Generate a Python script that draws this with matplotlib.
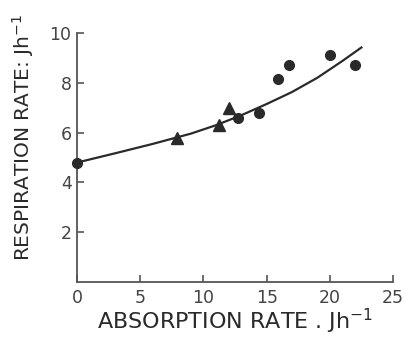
import matplotlib
matplotlib.use("Agg")
import matplotlib.pyplot as plt

plt.rcParams["font.family"] = ["DejaVu Sans"]

# data
circle_x = [0.0, 12.7, 14.4, 15.9, 16.8, 20.0, 22.0]
circle_y = [4.8, 6.57, 6.8, 8.15, 8.7, 9.1, 8.7]
tri_x = [7.9, 11.2, 12.0]
tri_y = [5.77, 6.3, 7.0]
fit_x = [0, 3, 6, 9, 11, 13, 15, 17, 19, 21, 22.5]
fit_y = [4.8, 5.17, 5.55, 5.96, 6.3, 6.7, 7.15, 7.63, 8.2, 8.88, 9.42]

x_ticks = [0, 5, 10, 15, 20, 25]
y_ticks = [2, 4, 6, 8, 10]

ink = "#2a2a2a"
axis_col = "#555555"

fig = plt.figure(figsize=(4.06, 3.37), dpi=100)
ax = fig.add_axes([0.19, 0.163, 0.778, 0.739])

ax.plot(fit_x, fit_y, color=ink, lw=1.6, zorder=2)
ax.plot(circle_x, circle_y, "o", color=ink, ms=7, zorder=3, clip_on=False)
ax.plot(tri_x, tri_y, "^", color=ink, ms=8, zorder=3)

ax.set_xlim(0, 25)
ax.set_ylim(0, 10)
ax.set_xticks(x_ticks)
ax.set_xticklabels([str(t) for t in x_ticks])
ax.set_yticks(y_ticks)
ax.set_yticklabels([str(t) for t in y_ticks])

for s in ("top", "right"):
    ax.spines[s].set_visible(False)
for s in ("left", "bottom"):
    ax.spines[s].set_color(axis_col)
    ax.spines[s].set_linewidth(1.3)

ax.tick_params(direction="in", length=5, width=1.2, color=axis_col,
               labelsize=12.5, labelcolor="#444444", pad=4)
ax.tick_params(axis="x", pad=5)

ax.set_xlabel("ABSORPTION RATE . Jh$^{-1}$", fontsize=16, color=ink, labelpad=0)
ax.set_ylabel("RESPIRATION RATE: Jh$^{-1}$", fontsize=14.5, color=ink)
ax.yaxis.set_label_coords(-0.13, 0.58)

fig.savefig("out.png", dpi=100)
